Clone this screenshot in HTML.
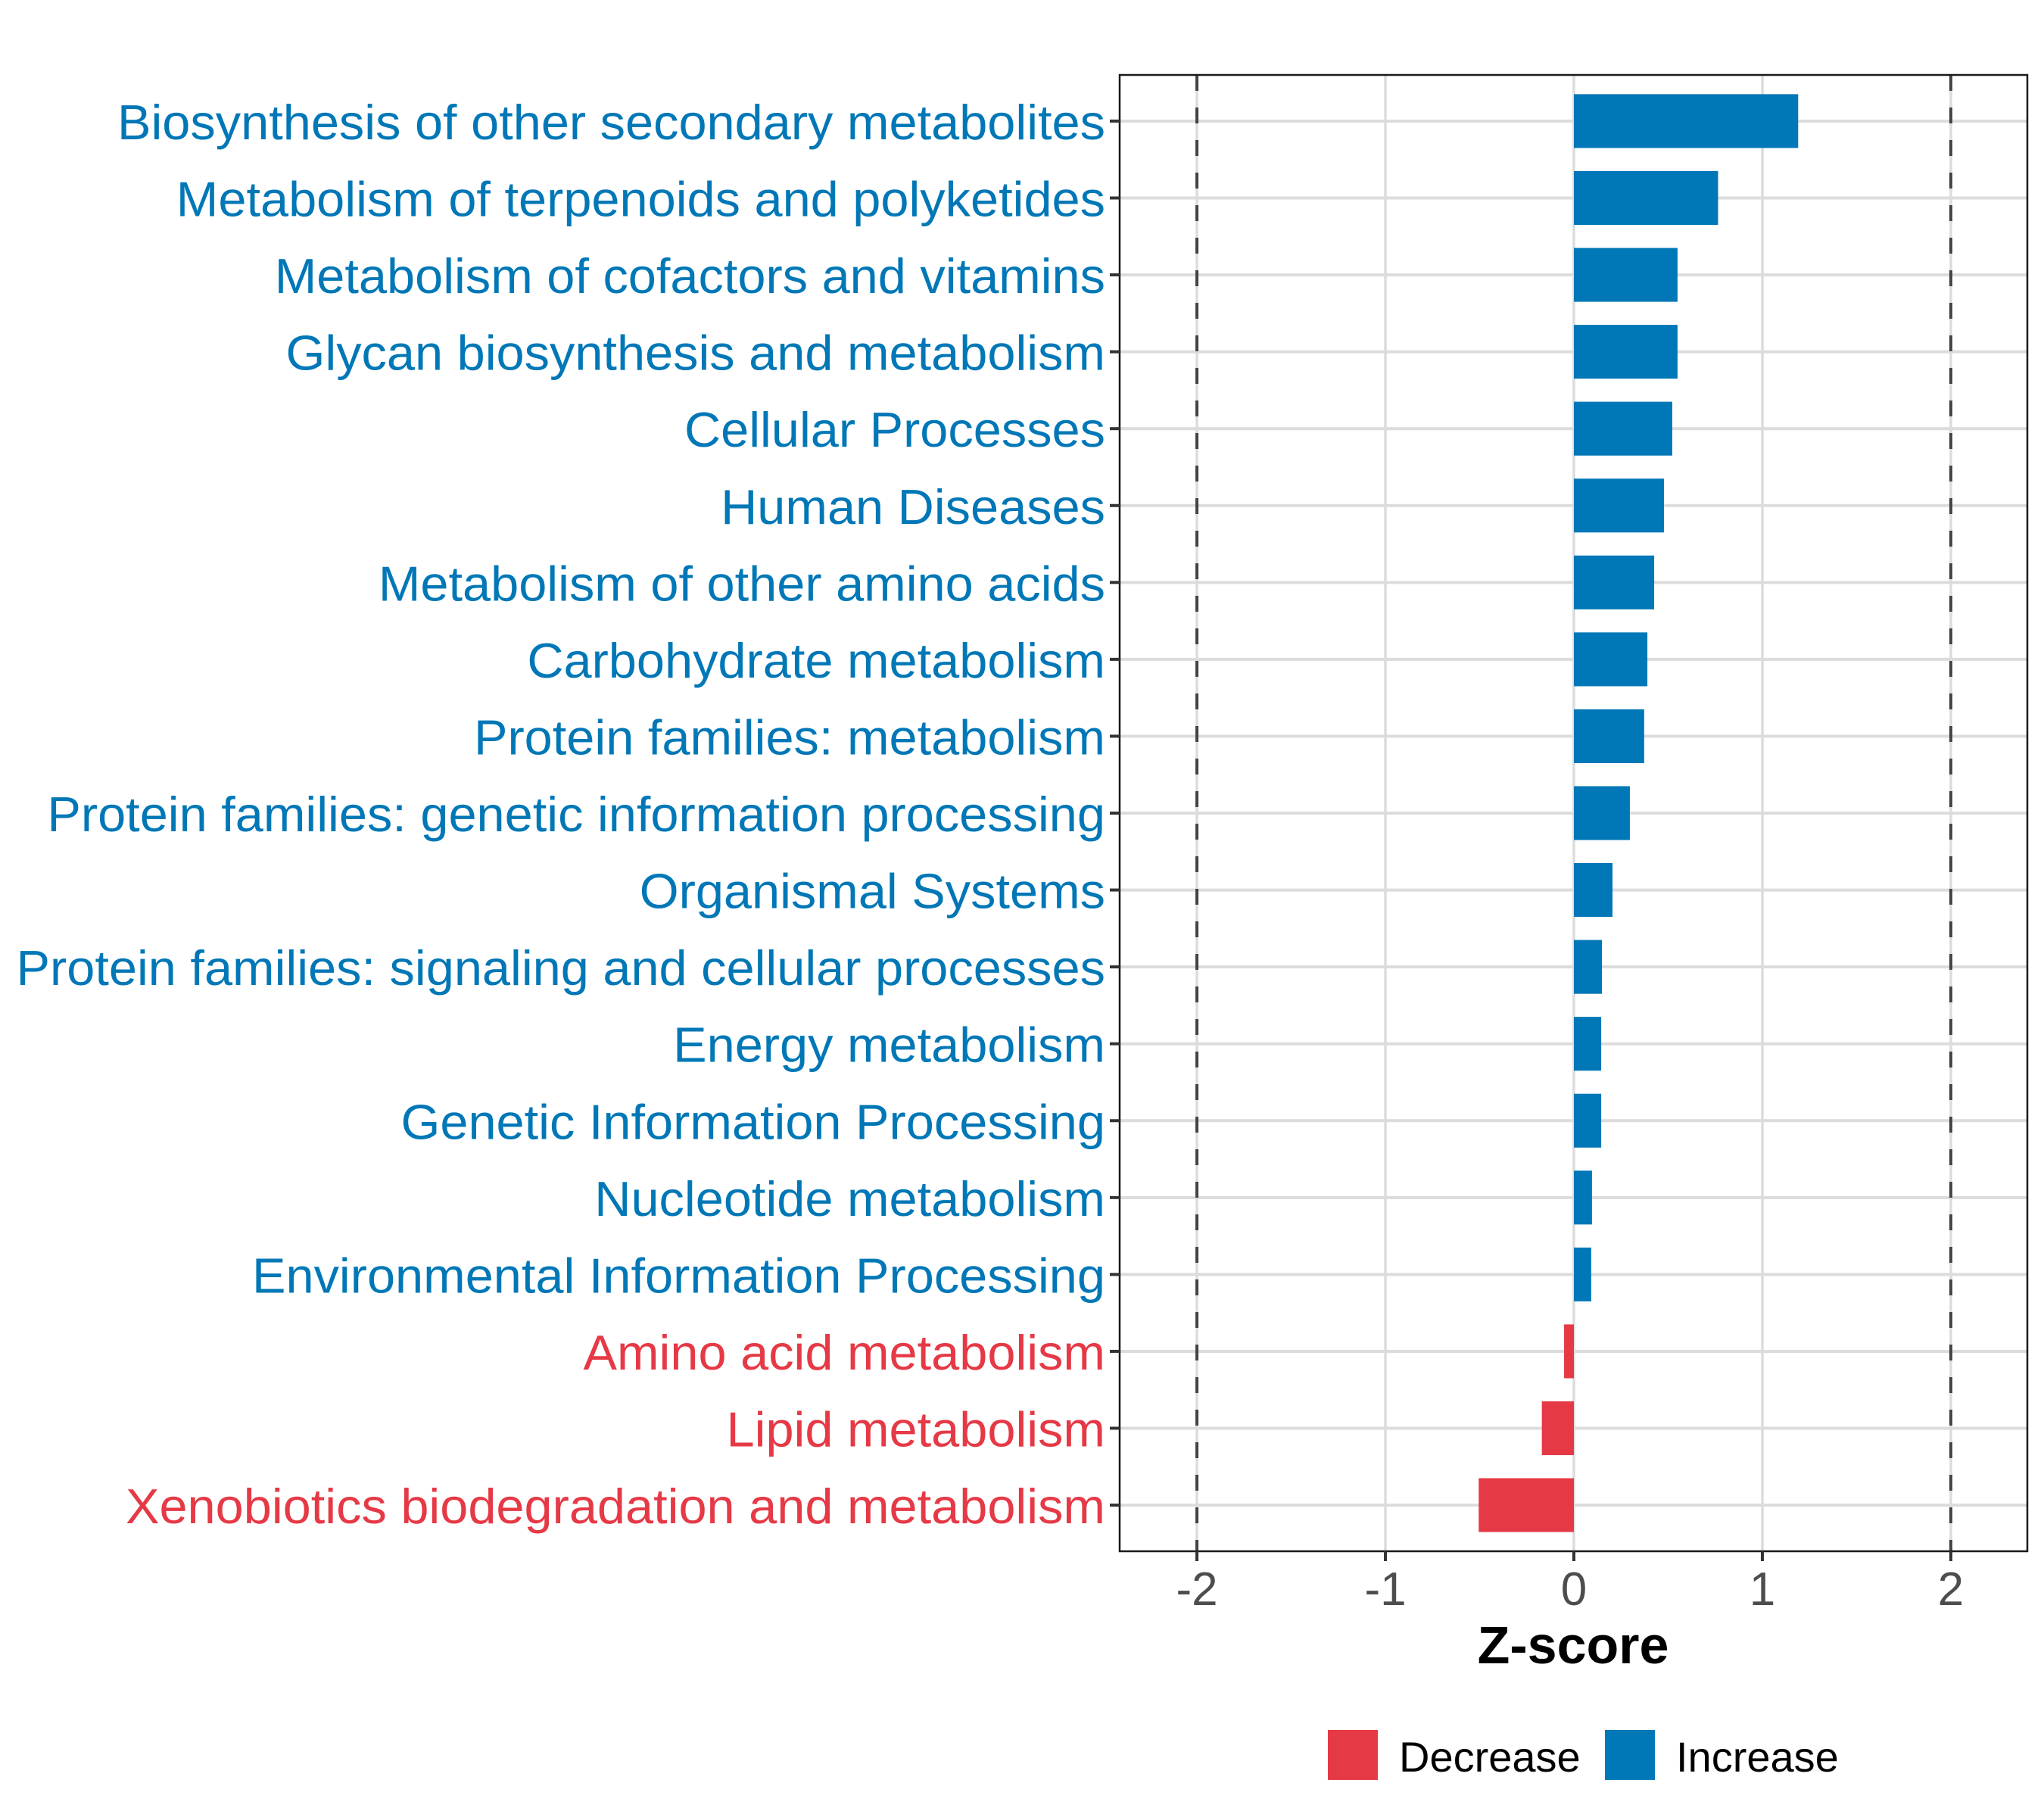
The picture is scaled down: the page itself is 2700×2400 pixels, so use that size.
<!DOCTYPE html>
<html><head><meta charset="utf-8"><style>
html,body{margin:0;padding:0;background:#fff;}
svg{display:block;font-family:"Liberation Sans",Arial,sans-serif;}
</style></head><body>
<svg id="chart" width="2700" height="2400" viewBox="0 0 2700 2400">
<g id="grid"></g>
<g id="bars"></g>
<g id="refs"></g>
<rect x="1479" y="99" width="1199" height="1950" fill="none" stroke="#1a1a1a" stroke-width="2.5"/>
<g id="ylabels"></g>
<g id="xaxis"></g>
<text x="2078" y="2197" text-anchor="middle" font-size="70" font-weight="bold" fill="#000">Z-score</text>
<g>
<g>
<rect x="1754" y="2285" width="66" height="66" fill="#E63946"/>
<text x="1848" y="2340" font-size="56" fill="#000">Decrease</text>
</g>
<g>
<rect x="2120" y="2285" width="66" height="66" fill="#0077B6"/>
<text x="2214" y="2340" font-size="56" fill="#000">Increase</text>
</g>
</g>
</svg>
<script>
const categories = [
"Biosynthesis of other secondary metabolites",
"Metabolism of terpenoids and polyketides",
"Metabolism of cofactors and vitamins",
"Glycan biosynthesis and metabolism",
"Cellular Processes",
"Human Diseases",
"Metabolism of other amino acids",
"Carbohydrate metabolism",
"Protein families: metabolism",
"Protein families: genetic information processing",
"Organismal Systems",
"Protein families: signaling and cellular processes",
"Energy metabolism",
"Genetic Information Processing",
"Nucleotide metabolism",
"Environmental Information Processing",
"Amino acid metabolism",
"Lipid metabolism",
"Xenobiotics biodegradation and metabolism"
];
const zscores = [1.19, 0.765, 0.55, 0.55, 0.522, 0.478, 0.426, 0.39, 0.373, 0.297, 0.205, 0.149, 0.145, 0.145, 0.096, 0.092, -0.052, -0.17, -0.505];
const xTicks = [-2, -1, 0, 1, 2];
const xTickLabels = ["-2", "-1", "0", "1", "2"];
const refLines = [-2, 2];

const NS = "http://www.w3.org/2000/svg";
const X0 = 1479, X1 = 2678, Y0 = 99, Y1 = 2049;
const xMin = -2.41, xMax = 2.406;
function xs(v){ return X0 + (v - xMin) / (xMax - xMin) * (X1 - X0); }
const band = (Y1 - Y0) / (categories.length + 0.2);
function ys(i){ return Y0 + band * (0.6 + i); }
function colorFor(v){ return v < 0 ? "#E63946" : "#0077B6"; }
function mk(tag, attrs, parent){
  const e = document.createElementNS(NS, tag);
  for (const k in attrs) e.setAttribute(k, attrs[k]);
  parent.appendChild(e);
  return e;
}
const grid = document.getElementById("grid");
const bars = document.getElementById("bars");
const refs = document.getElementById("refs");
const ylabels = document.getElementById("ylabels");
const xaxis = document.getElementById("xaxis");

xTicks.forEach((t) => {
  const l = mk("line", {x1: xs(t), x2: xs(t), y1: Y0, y2: Y1, stroke: "#dcdcdc", "stroke-width": 3.5}, grid);
  
  
});
categories.forEach((c, i) => {
  const l = mk("line", {x1: X0, x2: X1, y1: ys(i), y2: ys(i), stroke: "#dcdcdc", "stroke-width": 4}, grid);
  
  
});

const barH = band * 0.7;
zscores.forEach((v, i) => {
  const xa = xs(Math.min(0, v)), xb = xs(Math.max(0, v));
  const r = mk("rect", {x: xa, y: ys(i) - barH / 2, width: xb - xa, height: barH, fill: colorFor(v)}, bars);
  
  
});

refLines.forEach((v) => {
  const l = mk("line", {x1: xs(v), x2: xs(v), y1: Y0, y2: Y1, stroke: "#444", "stroke-width": 4, "stroke-dasharray": "21 22"}, refs);
  
  
});

let scaleF = null;
categories.forEach((c, i) => {
  const tk = mk("line", {x1: X0 - 13, x2: X0, y1: ys(i), y2: ys(i), stroke: "#333", "stroke-width": 4}, ylabels);
  
  
  const t = mk("text", {x: X0 - 19, y: ys(i) + 24, "text-anchor": "end", "font-size": 65, fill: colorFor(zscores[i])}, ylabels);
  t.textContent = c;
  
  
  const w = t.getComputedTextLength();
  if (i === 0 && w > 0) scaleF = 1305 / w;
  if (scaleF && w > 0) {
    t.setAttribute("textLength", w * scaleF);
    t.setAttribute("lengthAdjust", "spacingAndGlyphs");
  }
});

xTicks.forEach((t, i) => {
  const tk = mk("line", {x1: xs(t), x2: xs(t), y1: Y1, y2: Y1 + 13, stroke: "#333", "stroke-width": 4}, xaxis);
  
  
  const lb = mk("text", {x: xs(t), y: 2120, "text-anchor": "middle", "font-size": 62, fill: "#4d4d4d"}, xaxis);
  lb.textContent = xTickLabels[i];
  
  
});
</script>
</body></html>
